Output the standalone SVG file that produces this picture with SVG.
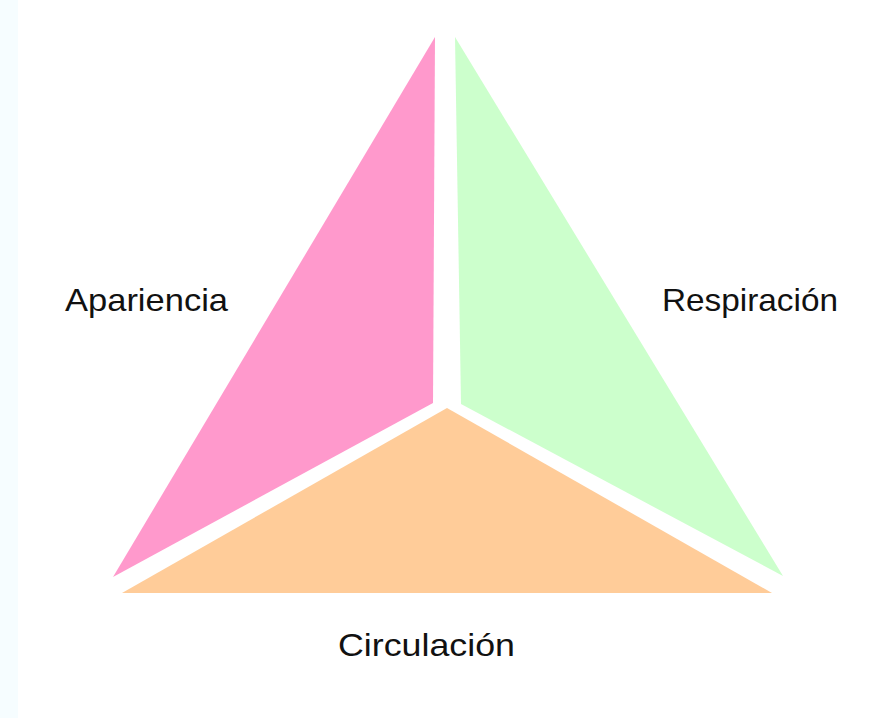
<svg xmlns="http://www.w3.org/2000/svg" width="876" height="718" viewBox="0 0 876 718">
<style>
.lbl{font-family:"Liberation Sans",Arial,sans-serif;font-size:32px;fill:#111}
</style>
<rect width="876" height="718" fill="#ffffff"/>
<rect x="0" y="0" width="18" height="718" fill="#f6fdff"/>
<g id="apariencia">
<polygon points="435,37 433,403 113,577" fill="#ff99cc"/>
<text class="lbl" x="65" y="311" textLength="163" lengthAdjust="spacingAndGlyphs">Apariencia</text>
</g>
<g id="respiracion">
<polygon points="455,37 461,404 783,576" fill="#ccffcc"/>
<text class="lbl" x="662" y="311" textLength="176" lengthAdjust="spacingAndGlyphs">Respiración</text>
</g>
<g id="circulacion">
<polygon points="447,408 772,593 122,593" fill="#ffcc99"/>
<text class="lbl" x="338" y="656" textLength="177" lengthAdjust="spacingAndGlyphs">Circulación</text>
</g>
<g id="connectors"/>
</svg>
